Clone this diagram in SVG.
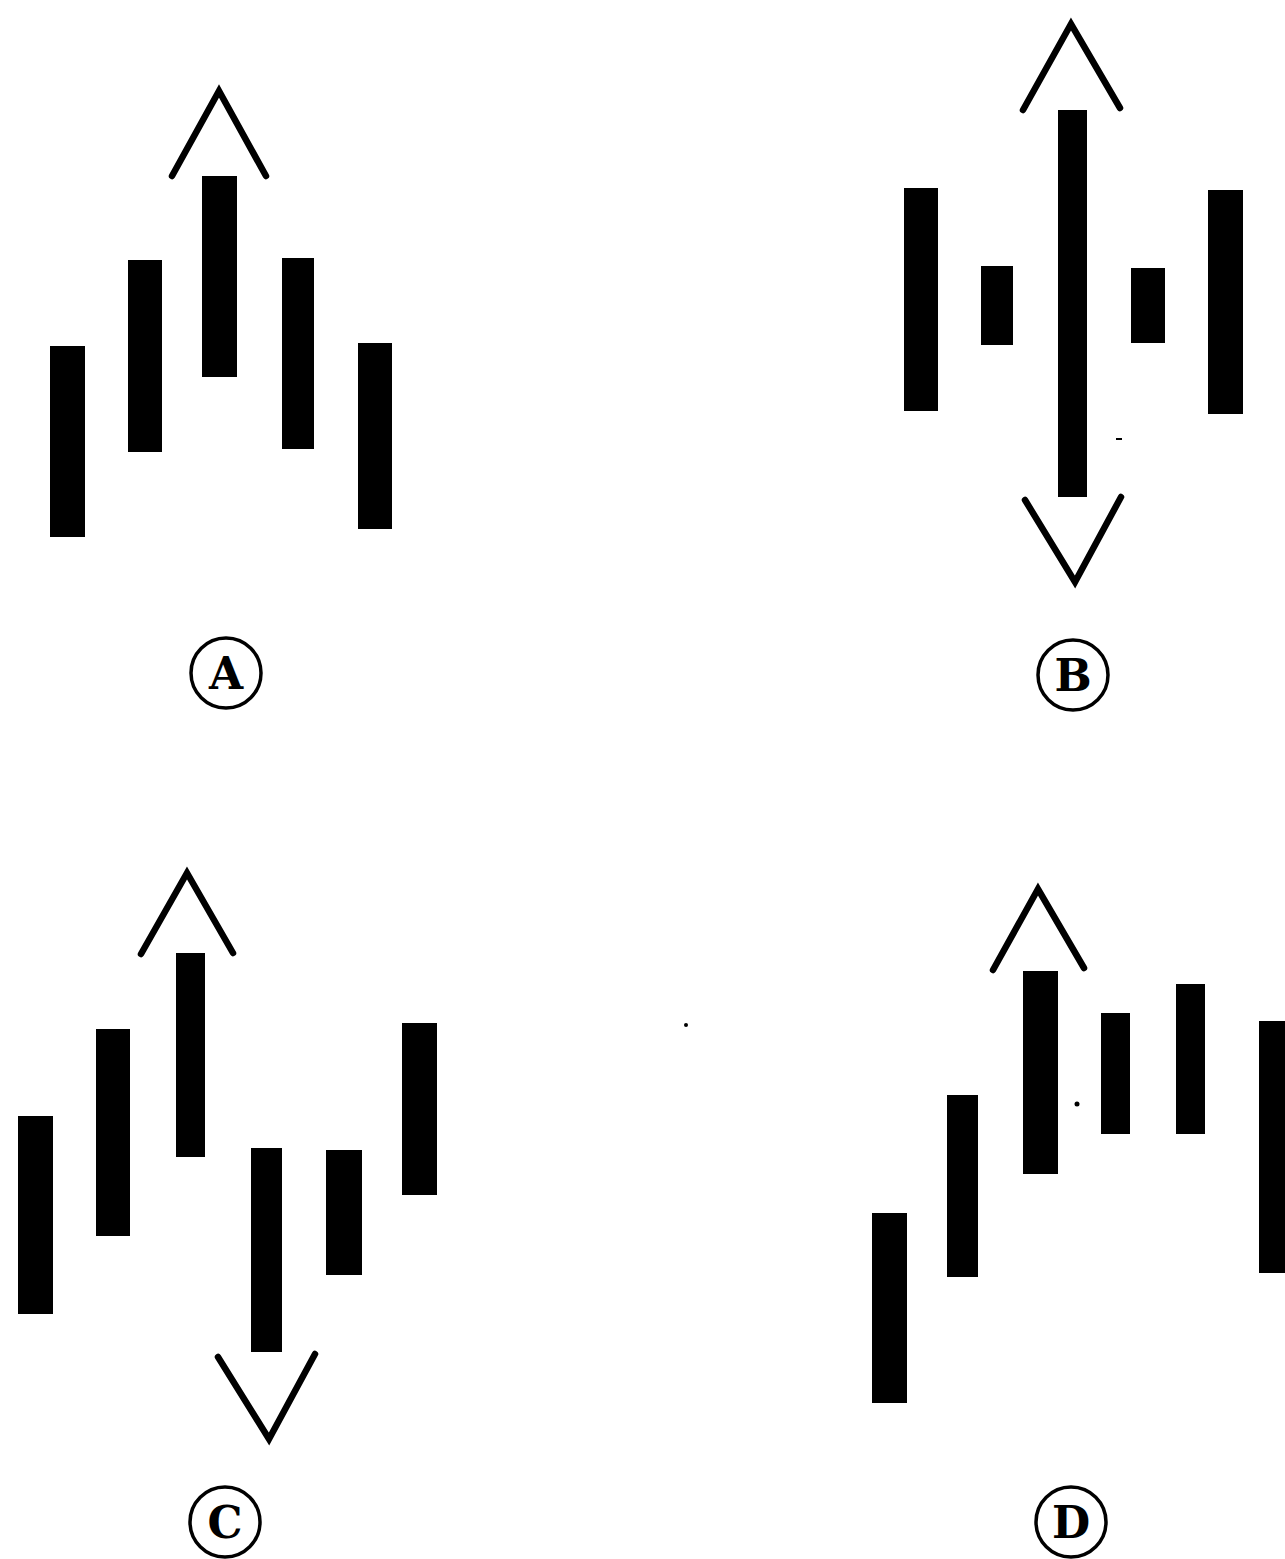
<svg xmlns="http://www.w3.org/2000/svg" width="1285" height="1559" viewBox="0 0 1285 1559">
<style>
.bar{fill:#000}
.arr{fill:none;stroke:#000;stroke-width:6.5;stroke-linecap:round;stroke-linejoin:miter}
.ring{fill:none;stroke:#000;stroke-width:3.5}
.lbl{font-family:"DejaVu Serif","Liberation Serif",serif;font-weight:bold;font-size:44px;fill:#000;text-anchor:middle}
</style>
<rect x="0" y="0" width="1285" height="1559" fill="#fff"/>
<g id="panel-A">
<rect class="bar" x="50" y="346" width="35" height="191"/>
<rect class="bar" x="128" y="260" width="34" height="192"/>
<rect class="bar" x="202" y="176" width="35" height="201"/>
<rect class="bar" x="282" y="258" width="32" height="191"/>
<rect class="bar" x="358" y="343" width="34" height="186"/>
<g id="label-A"><circle class="ring" cx="226" cy="673" r="35"/><text class="lbl" x="226" y="689">A</text></g>
</g>
<g id="panel-B">
<rect class="bar" x="904" y="188" width="34" height="223"/>
<rect class="bar" x="981" y="266" width="32" height="79"/>
<rect class="bar" x="1058" y="110" width="29" height="387"/>
<rect class="bar" x="1131" y="268" width="34" height="75"/>
<rect class="bar" x="1208" y="190" width="35" height="224"/>
<rect class="bar" x="1116" y="438" width="6" height="2"/>
<g id="label-B"><circle class="ring" cx="1073" cy="675" r="35"/><text class="lbl" x="1073" y="691">B</text></g>
</g>
<g id="panel-C">
<rect class="bar" x="18" y="1116" width="35" height="198"/>
<rect class="bar" x="96" y="1029" width="34" height="207"/>
<rect class="bar" x="176" y="953" width="29" height="204"/>
<rect class="bar" x="251" y="1148" width="31" height="204"/>
<rect class="bar" x="326" y="1150" width="36" height="125"/>
<rect class="bar" x="402" y="1023" width="35" height="172"/>
<g id="label-C"><circle class="ring" cx="225" cy="1522" r="35"/><text class="lbl" x="225" y="1538">C</text></g>
</g>
<g id="panel-D">
<rect class="bar" x="872" y="1213" width="35" height="190"/>
<rect class="bar" x="947" y="1095" width="31" height="182"/>
<rect class="bar" x="1023" y="971" width="35" height="203"/>
<rect class="bar" x="1101" y="1013" width="29" height="121"/>
<rect class="bar" x="1176" y="984" width="29" height="150"/>
<rect class="bar" x="1259" y="1021" width="30" height="252"/>
<circle class="bar" cx="1077" cy="1104" r="2.5"/>
<g id="label-D"><circle class="ring" cx="1071" cy="1522" r="35"/><text class="lbl" x="1071" y="1538">D</text></g>
</g>
<circle class="bar" cx="686" cy="1025" r="2"/>
<g id="connectors">
<polyline class="arr" points="172,176 219,91 266,176"/>
<polyline class="arr" points="1023,110 1071,24 1120,108"/>
<polyline class="arr" points="1025,500 1075,582 1121,497"/>
<polyline class="arr" points="141,954 187,873 233,953"/>
<polyline class="arr" points="218,1357 269,1439 315,1354"/>
<polyline class="arr" points="993,970 1038,889 1084,968"/>
</g>
</svg>
